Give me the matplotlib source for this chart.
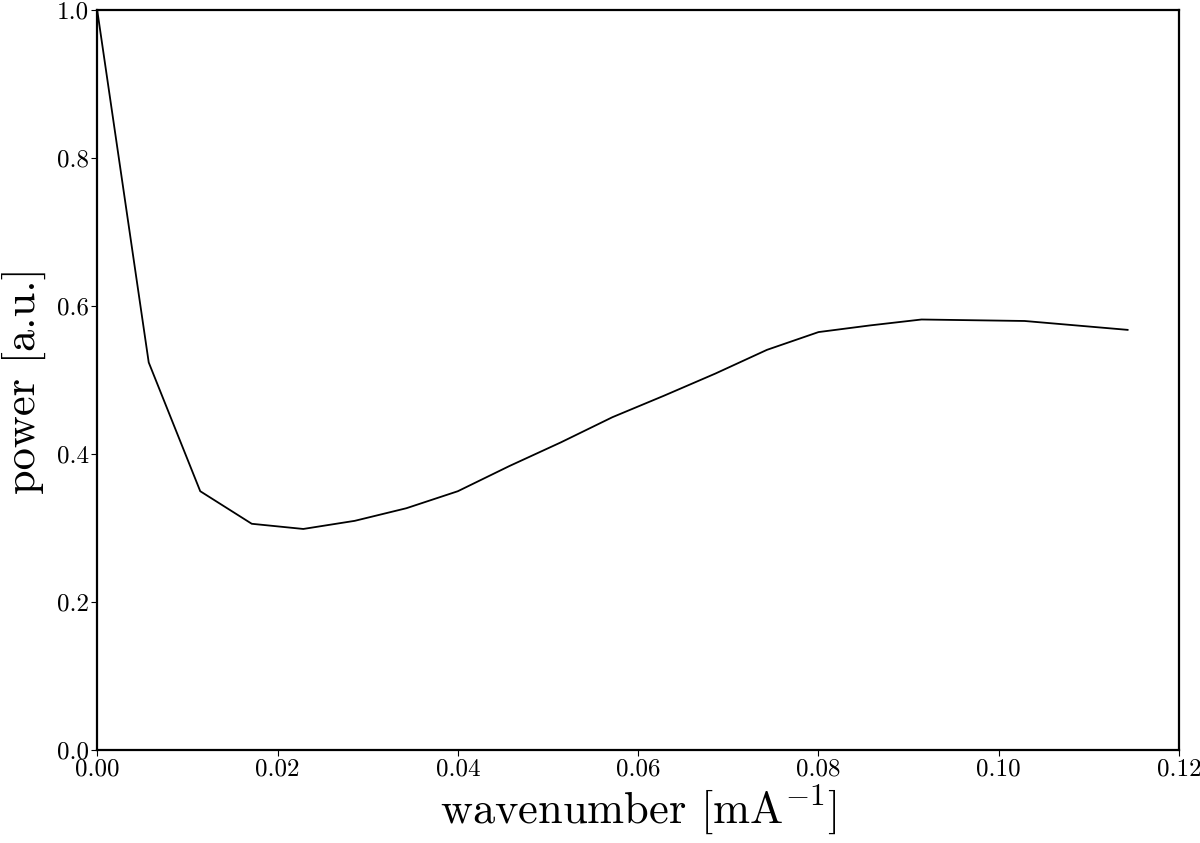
import numpy as np
import matplotlib
matplotlib.use("Agg")
import matplotlib.pyplot as plt

# spectrum values
wavenumber = np.arange(21) * 0.005715
power = [1.0, 0.524, 0.350, 0.306, 0.299, 0.310, 0.327, 0.350, 0.384, 0.416,
         0.450, 0.479, 0.509, 0.541, 0.565, 0.574, 0.582, 0.581, 0.580, 0.574, 0.568]

x_ticks = [0.00, 0.02, 0.04, 0.06, 0.08, 0.10, 0.12]
y_ticks = [0.0, 0.2, 0.4, 0.6, 0.8, 1.0]

plt.rcParams['font.family'] = 'serif'
plt.rcParams['font.serif'] = ['cmr10']
plt.rcParams['mathtext.fontset'] = 'cm'
plt.rcParams['axes.formatter.use_mathtext'] = True

fig = plt.figure(figsize=(12, 8.43), dpi=100)
ax = fig.add_axes([0.081, 0.110, 0.9015, 0.878])

ax.plot(wavenumber, power, color='black', lw=1.3)

ax.set_xlim(0, 0.12)
ax.set_ylim(0, 1.0)
ax.set_xticks(x_ticks)
ax.set_xticklabels(['%.2f' % t for t in x_ticks])
ax.set_yticks(y_ticks)
ax.set_yticklabels(['%.1f' % t for t in y_ticks])
ax.tick_params(labelsize=18, length=4, width=0.8, pad=2)

for s in ax.spines.values():
    s.set_linewidth(1.6)

ax.set_xlabel(r'wavenumber [mA$^{-1}$]', fontsize=32, labelpad=2)
ax.set_ylabel('power [a.u.]', fontsize=32, labelpad=8)

fig.savefig('out.png', dpi=100)
